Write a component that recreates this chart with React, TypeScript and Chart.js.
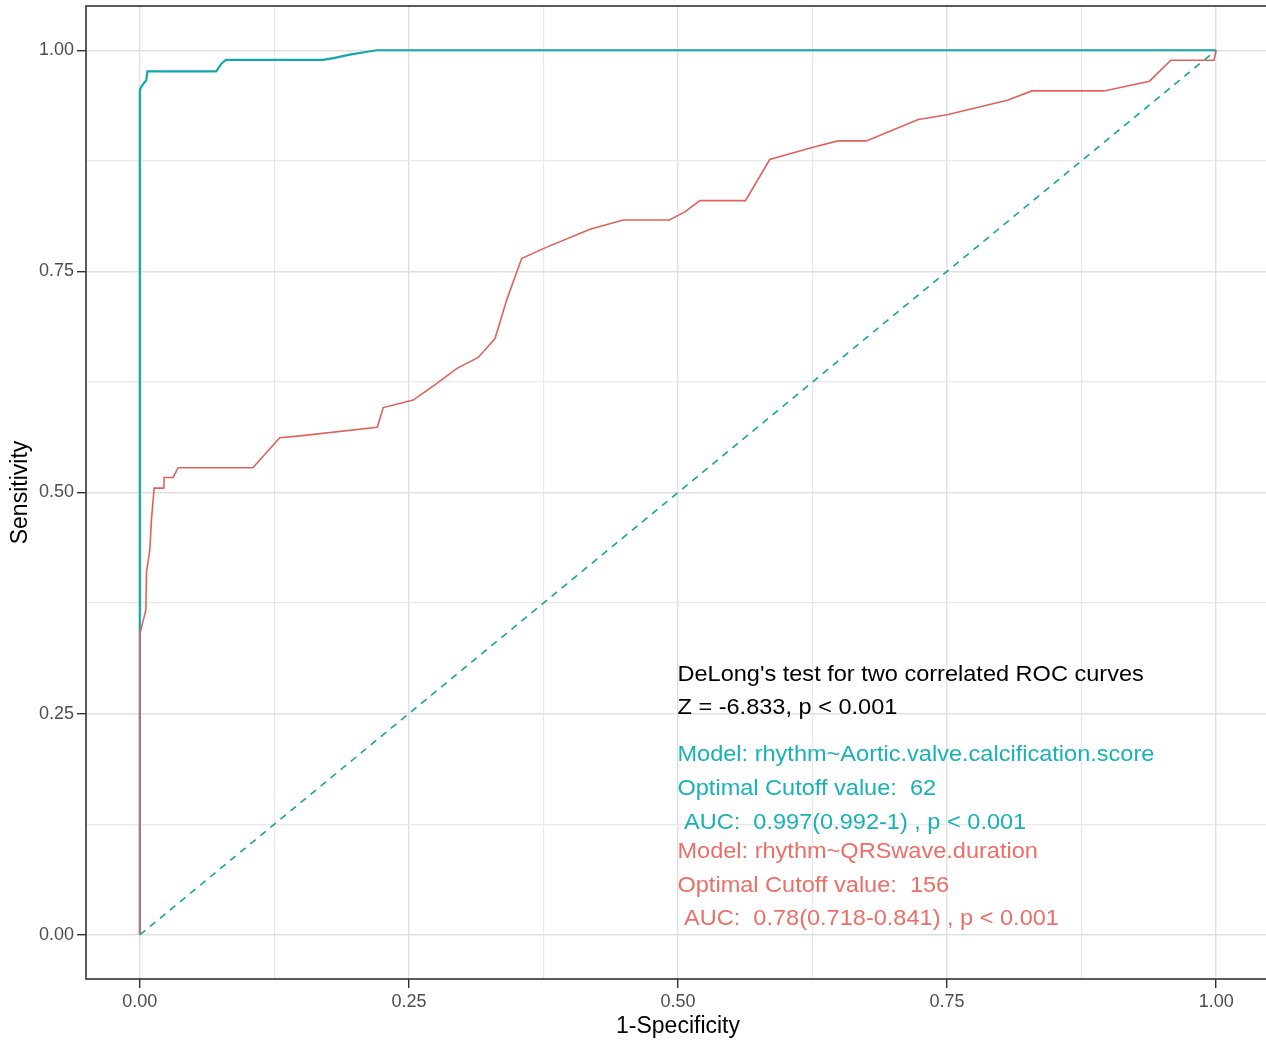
import React, { useEffect, useRef } from "react";
import { Chart, registerables } from "chart.js";

Chart.register(...registerables);

// ---- data ----
const gridTicks = [0, 0.125, 0.25, 0.375, 0.5, 0.625, 0.75, 0.875, 1];

const aorticFpr = [0, 0, 0.002, 0.006, 0.007, 0.071, 0.076, 0.08, 0.17, 0.18, 0.195, 0.21, 0.22, 1];
const aorticTpr = [0, 0.955, 0.96, 0.966, 0.976, 0.976, 0.985, 0.989, 0.989, 0.991, 0.995, 0.998, 1, 1];

const qrsFpr = [
  0, 0, 0.0006, 0.0056, 0.0062, 0.0093, 0.0108, 0.0133, 0.0223, 0.0226, 0.031, 0.0356, 0.105, 0.13,
  0.1487, 0.2206, 0.2262, 0.254, 0.2757, 0.2943, 0.3144, 0.33, 0.3408, 0.3547, 0.3748, 0.4182, 0.449,
  0.492, 0.5064, 0.5202, 0.5627, 0.5852, 0.6247, 0.6484, 0.675, 0.7232, 0.75, 0.806, 0.8289, 0.8959,
  0.9381, 0.9578, 0.998, 1,
];
const qrsTpr = [
  0, 0.34, 0.343, 0.367, 0.41, 0.435, 0.469, 0.505, 0.505, 0.517, 0.517, 0.528, 0.528, 0.562,
  0.564, 0.5737, 0.596, 0.6045, 0.623, 0.64, 0.6527, 0.674, 0.7175, 0.7645, 0.7757, 0.7977, 0.808,
  0.808, 0.8173, 0.83, 0.83, 0.8764, 0.89, 0.8975, 0.8975, 0.9216, 0.927, 0.9435, 0.954, 0.954,
  0.965, 0.9887, 0.9887, 1,
];

const refFpr = [0, 1];
const refTpr = [0, 1];

const annotationLines = [
  "DeLong's test for two correlated ROC curves",
  "Z = -6.833, p < 0.001",
  "Model: rhythm~Aortic.valve.calcification.score",
  "Optimal Cutoff value:  62",
  " AUC:  0.997(0.992-1) , p < 0.001",
  "Model: rhythm~QRSwave.duration",
  "Optimal Cutoff value:  156",
  " AUC:  0.78(0.718-0.841) , p < 0.001",
];
const annotationColors = ["#000000", "#000000", "#18B2B6", "#18B2B6", "#18B2B6", "#EC6F67", "#EC6F67", "#EC6F67"];
const annotationY = [0.2873, 0.2497, 0.197, 0.1582, 0.1198, 0.0866, 0.0489, 0.0113];
const annotationX = 0.4995;

const toPoints = (xs: number[], ys: number[]) => xs.map((x, i) => ({ x, y: ys[i] }));
const isMajor = (v: number) => Math.abs(v * 4 - Math.round(v * 4)) < 1e-6;

const FONT = '"Liberation Sans", Arial, Helvetica, sans-serif';

const annotationPlugin = {
  id: "rocText",
  afterDatasetsDraw(chart: any) {
    const { ctx, scales } = chart;
    const x0 = scales.x.getPixelForValue(annotationX);
    ctx.save();
    ctx.font = `22px ${FONT}`;
    ctx.textAlign = "left";
    ctx.textBaseline = "alphabetic";
    annotationLines.forEach((t, i) => {
      ctx.save();
      ctx.fillStyle = annotationColors[i];
      ctx.translate(x0, scales.y.getPixelForValue(annotationY[i]));
      ctx.scale(1.07, 1);
      ctx.fillText(t, 0, 0);
      ctx.restore();
    });
    ctx.restore();
  },
};

const borderPlugin = {
  id: "panelBorder",
  afterDraw(chart: any) {
    const { ctx, chartArea } = chart;
    const { left, top, right, bottom } = chartArea;
    ctx.save();
    ctx.strokeStyle = "#333333";
    ctx.lineWidth = 1.6;
    ctx.strokeRect(left, top, right - left, bottom - top);
    ctx.restore();
  },
};

function App() {
  const ref = useRef<HTMLCanvasElement | null>(null);

  useEffect(() => {
    if (!ref.current) return;
    const axisCommon = (title: string) => ({
      type: "linear" as const,
      min: -0.05,
      max: 1.05,
      afterBuildTicks: (scale: any) => {
        scale.ticks = gridTicks.map((v) => ({ value: v }));
      },
      grid: {
        color: (c: any) => (c.tick && isMajor(c.tick.value) ? "#E0E0E0" : "#E8E8E8"),
        lineWidth: (c: any) => (c.tick && isMajor(c.tick.value) ? 1.4 : 1.2),
        tickColor: (c: any) => (c.tick && isMajor(c.tick.value) ? "#333333" : "rgba(0,0,0,0)"),
        tickLength: 9,
        drawTicks: true,
      },
      border: { display: false },
      ticks: {
        autoSkip: false,
        maxRotation: 0,
        color: "#4D4D4D",
        font: { size: 18, family: FONT },
        callback: (v: any) => (isMajor(Number(v)) ? Number(v).toFixed(2) : ""),
      },
      title: {
        display: true,
        text: title,
        color: "#000000",
        font: { size: 23, family: FONT },
      },
    });

    const xAxis: any = axisCommon("1-Specificity");
    xAxis.ticks.padding = 3;
    xAxis.title.padding = { top: 0, bottom: 0 };
    xAxis.afterFit = (scale: any) => {
      scale.height = 61;
      scale.paddingLeft = 0;
      scale.paddingRight = 0;
    };
    const yAxis: any = axisCommon("Sensitivity");
    yAxis.ticks.padding = 3;
    yAxis.title.padding = { top: 7, bottom: 0 };
    yAxis.afterFit = (scale: any) => {
      scale.width = 86;
      scale.paddingTop = 0;
      scale.paddingBottom = 0;
    };

    const chart = new Chart(ref.current, {
      type: "line",
      data: {
        datasets: [
          {
            label: "QRSwave.duration",
            data: toPoints(qrsFpr, qrsTpr),
            borderColor: "#E0625C",
            borderWidth: 1.6,
            pointRadius: 0,
            tension: 0,
          },
          {
            label: "Aortic.valve.calcification.score",
            data: toPoints(aorticFpr, aorticTpr),
            borderColor: "#12A8AA",
            borderWidth: 2.2,
            pointRadius: 0,
            tension: 0,
          },
          {
            label: "reference",
            data: toPoints(refFpr, refTpr),
            borderColor: "#17A598",
            borderWidth: 1.6,
            borderDash: [7, 6],
            pointRadius: 0,
            tension: 0,
          },
        ],
      },
      options: {
        animation: false,
        responsive: false,
        devicePixelRatio: 1,
        layout: { padding: { top: 6, right: 0, bottom: 0, left: 0 } },
        plugins: {
          legend: { display: false },
          tooltip: { enabled: false },
        },
        scales: { x: xAxis, y: yAxis },
      } as any,
      plugins: [annotationPlugin, borderPlugin],
    });
    return () => chart.destroy();
  }, []);

  return (
    <div
      style={{
        position: "fixed",
        left: 0,
        top: 0,
        width: 1266,
        height: 1040,
        overflow: "hidden",
        background: "#ffffff",
      }}
    >
      <canvas ref={ref} width={1270} height={1040} style={{ display: "block", width: 1270, height: 1040 }} />
    </div>
  );
}

export default App;
